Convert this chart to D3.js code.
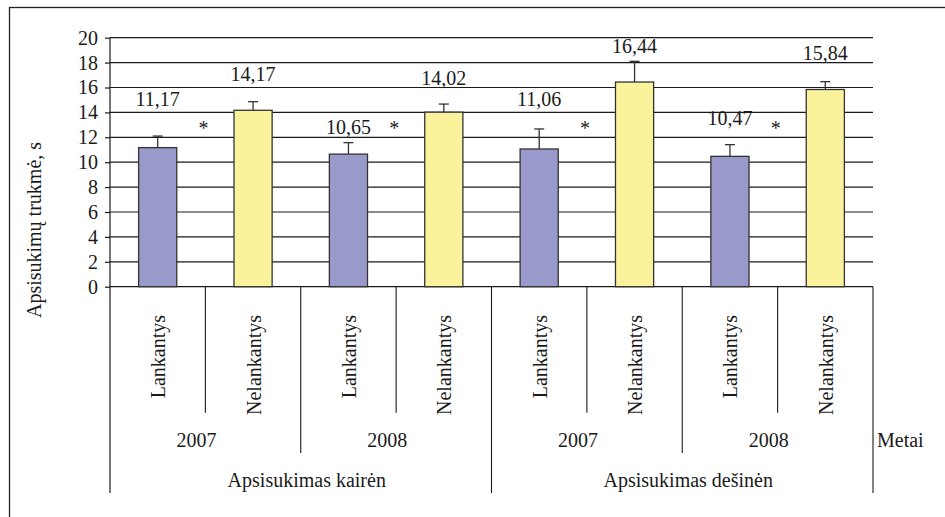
<!DOCTYPE html>
<html>
<head>
<meta charset="utf-8">
<script src="https://cdn.jsdelivr.net/npm/d3@7/dist/d3.min.js"></script>
<style>
  html, body { margin: 0; padding: 0; background: #fff; }
  svg { display: block; }
  svg text { font-family: 'Liberation Serif', 'DejaVu Serif', 'Noto Serif', Tinos, serif; fill: #1a1a1a; }
</style>
</head>
<body>
<svg id="chart" width="945" height="517"></svg>
<script>
// Turning duration (s), attending vs non-attending, by year and turn direction
const turns = ["Apsisukimas kairėn", "Apsisukimas dešinėn"];
const years = ["2007", "2008"];
const groups = ["Lankantys", "Nelankantys"];
const means = [11.17, 14.17, 10.65, 14.02, 11.06, 16.44, 10.47, 15.84];
const errors = [0.93, 0.69, 0.92, 0.65, 1.61, 1.66, 0.94, 0.63];
const yTicks = [0, 2, 4, 6, 8, 10, 12, 14, 16, 18, 20];
const significance = ["*", "*", "*", "*"];
const yTitle = "Apsisukimų trukmė, s";
const yearTitle = "Metai";

// label lift above each error-bar cap, px
const labelGap = [30, 21, 9, 19, 23, 8, 20, 22];

const fmt = v => v.toFixed(2).replace(".", ",");

// one entry per bar: turn / year / group
const rows = [];
turns.forEach((t, ti) => years.forEach((yr, yi) => groups.forEach((g, gi) => {
  const i = rows.length;
  rows.push({ id: i, turn: t, year: yr, group: g, mean: means[i], err: errors[i] });
})));

const svg = d3.select("#chart");
const plotLeft = 110, plotRight = 873, plotTop = 37.7, plotBottom = 286.7;
const fontSize = 20;

const x = d3.scaleBand().domain(rows.map(d => d.id)).range([plotLeft, plotRight])
  .paddingInner(0.6).paddingOuter(0.3);
const y = d3.scaleLinear().domain([0, 20]).range([plotBottom, plotTop]);
const step = x.step();
const boundary = i => plotLeft + i * step;

// outer frame
svg.append("rect").attr("x", 9.5).attr("y", 7.5).attr("width", 1000).attr("height", 1000)
  .attr("fill", "none").attr("stroke", "#222").attr("stroke-width", 1.3);

// horizontal gridlines
svg.append("g").selectAll("line").data(yTicks).join("line")
  .attr("x1", plotLeft).attr("x2", plotRight)
  .attr("y1", d => y(d)).attr("y2", d => y(d))
  .attr("stroke", "#1a1a1a").attr("stroke-width", 1.2);

// y axis
const yAxis = svg.append("g").attr("transform", `translate(${plotLeft},0)`)
  .call(d3.axisLeft(y).tickValues(yTicks).tickSize(5).tickPadding(7).tickFormat(d3.format("d")));
yAxis.attr("font-family", null).attr("font-size", null);
yAxis.select(".domain").remove();
yAxis.selectAll(".tick line").attr("stroke", "#1a1a1a").attr("stroke-width", 1.2);
yAxis.selectAll(".tick text").attr("font-size", fontSize).attr("fill", "#1a1a1a");

// y axis line continues down through the category table
svg.append("line").attr("x1", plotLeft).attr("x2", plotLeft).attr("y1", plotTop).attr("y2", 493)
  .attr("stroke", "#1a1a1a").attr("stroke-width", 1.2);

// category table separators
const sepDepth = i => (i % 4 === 0 ? 493 : i % 2 === 0 ? 453 : 412.7);
svg.append("g").selectAll("line").data(d3.range(1, rows.length + 1)).join("line")
  .attr("x1", i => boundary(i)).attr("x2", i => boundary(i))
  .attr("y1", plotBottom).attr("y2", i => sepDepth(i))
  .attr("stroke", "#1a1a1a").attr("stroke-width", 1.1);

// bars
svg.append("g").selectAll("rect").data(rows).join("rect")
  .attr("x", d => x(d.id)).attr("width", x.bandwidth())
  .attr("y", d => y(d.mean)).attr("height", d => y(0) - y(d.mean))
  .attr("fill", d => d.group === groups[0] ? "#9999cb" : "#faf39c")
  .attr("stroke", "#333").attr("stroke-width", 1.3);

// error bars (upper only)
const eb = svg.append("g").attr("stroke", "#333").attr("stroke-width", 1.3);
rows.forEach(d => {
  const cx = x(d.id) + x.bandwidth() / 2;
  eb.append("line").attr("x1", cx).attr("x2", cx).attr("y1", y(d.mean)).attr("y2", y(d.mean + d.err));
  eb.append("line").attr("x1", cx - 5).attr("x2", cx + 5).attr("y1", y(d.mean + d.err)).attr("y2", y(d.mean + d.err));
});

// value labels
svg.append("g").selectAll("text").data(rows).join("text")
  .attr("x", d => x(d.id) + x.bandwidth() / 2)
  .attr("y", d => y(d.mean + d.err) - labelGap[d.id])
  .attr("text-anchor", "middle").attr("font-size", fontSize)
  .text(d => fmt(d.mean));

// significance markers between each pair
svg.append("g").selectAll("text").data(significance).join("text")
  .attr("x", (s, i) => boundary(2 * i + 1) - 2)
  .attr("y", y(12) - 2)
  .attr("text-anchor", "middle").attr("font-size", fontSize)
  .text(s => s);

// group labels (rotated)
svg.append("g").selectAll("text").data(rows).join("text")
  .attr("transform", d => `translate(${x(d.id) + x.bandwidth() / 2 + 7.5},315) rotate(-90)`)
  .attr("text-anchor", "end").attr("font-size", fontSize)
  .text(d => d.group);

// year labels
const yearCells = [];
turns.forEach((t, ti) => years.forEach((yr, yi) => yearCells.push({ yr, idx: ti * 2 + yi })));
svg.append("g").selectAll("text").data(yearCells).join("text")
  .attr("x", d => boundary(d.idx * 2 + 1) - 9)
  .attr("y", 446.5)
  .attr("text-anchor", "middle").attr("font-size", fontSize)
  .text(d => d.yr);

// turn direction labels
svg.append("g").selectAll("text").data(turns).join("text")
  .attr("x", (t, i) => boundary(i * 4 + 2) + 6)
  .attr("y", 487)
  .attr("text-anchor", "middle").attr("font-size", fontSize)
  .text(t => t);

// year row title
svg.append("text").attr("x", 877).attr("y", 446.5).attr("font-size", fontSize).text(yearTitle);

// y axis title
svg.append("text").attr("transform", "translate(41,230) rotate(-90)")
  .attr("text-anchor", "middle").attr("font-size", fontSize).text(yTitle);
</script>
</body>
</html>
